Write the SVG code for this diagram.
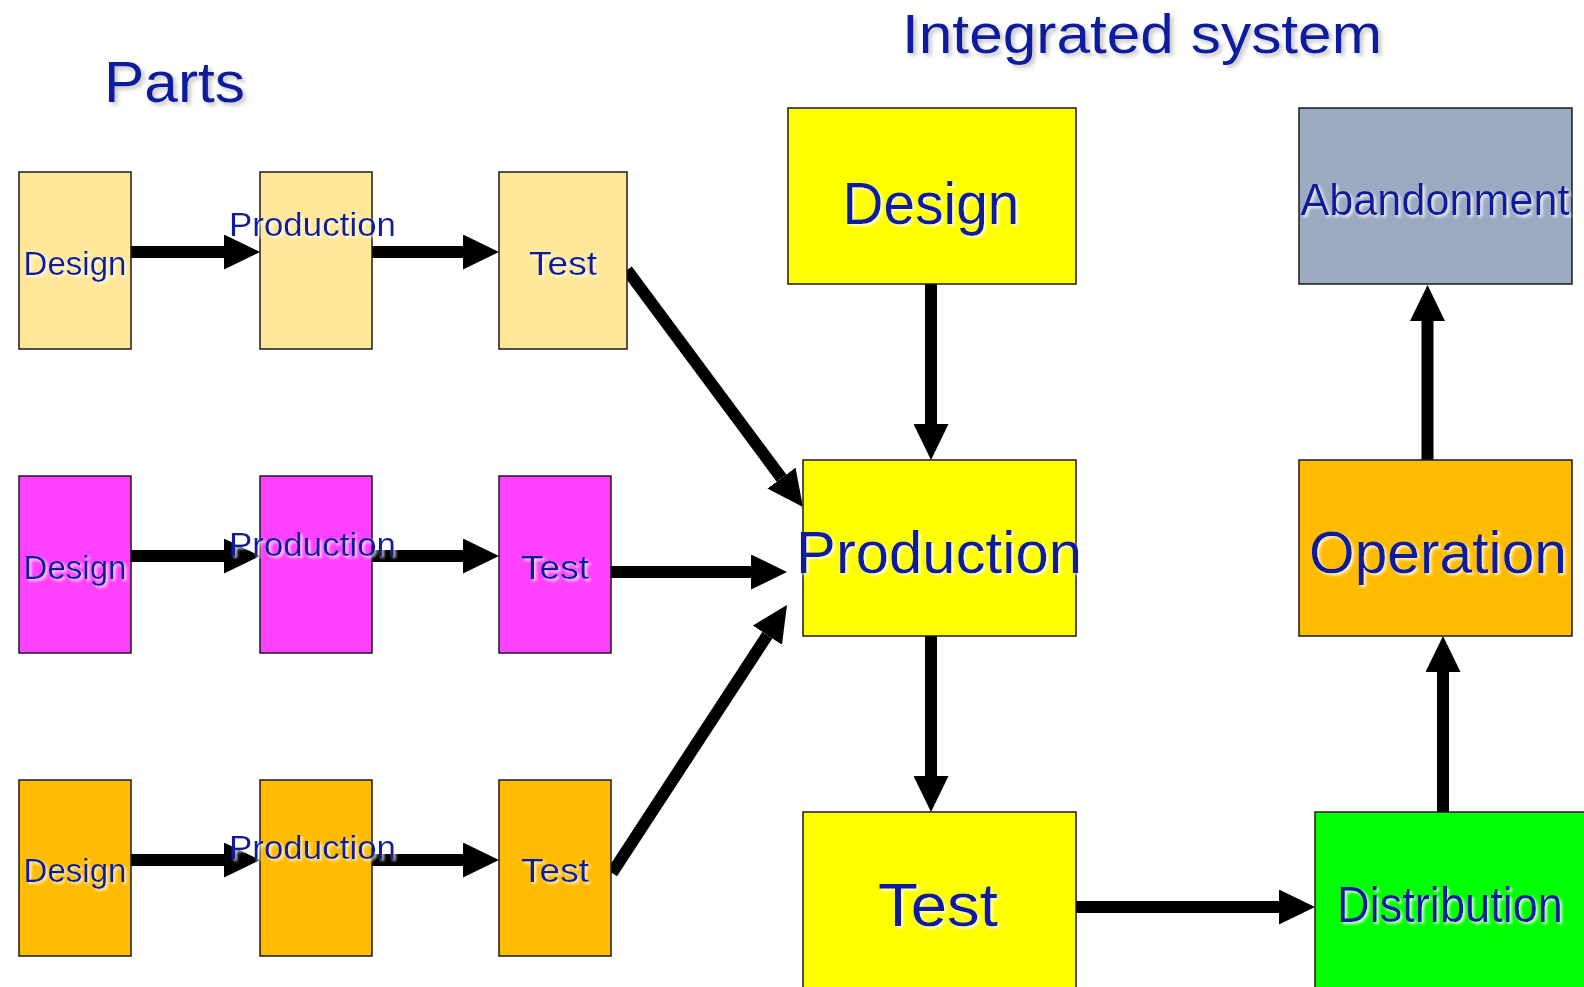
<svg xmlns="http://www.w3.org/2000/svg" width="1584" height="987" viewBox="0 0 1584 987">
  <defs>
    <style>
      .box { stroke: #1a1a1a; stroke-width: 1.5; }
      .lbl { font-family: "Liberation Sans", Arial, sans-serif; fill: #0A1E9E; text-anchor: middle; filter: url(#glow); }
      .title { font-family: "Liberation Sans", Arial, sans-serif; fill: #0A1E9E; text-anchor: middle; filter: url(#shade); }
      .arrow { stroke: #000; stroke-width: 12; fill: none; marker-end: url(#head); }
      .pale { fill: #FFE89A; }
      .magenta { fill: #FF40FF; }
      .gold { fill: #FFBB00; }
      .yellow { fill: #FFFF00; }
      .slate { fill: #9CAAC1; }
      .green { fill: #00FF00; }
    </style>
    <marker id="head" markerUnits="userSpaceOnUse" markerWidth="36" markerHeight="35" refX="0" refY="17.5" orient="auto">
      <path d="M0,0 L36,17.5 L0,35 Z" fill="#000"/>
    </marker>
    <filter id="glow" x="-5%" y="-30%" width="110%" height="160%">
      <feDropShadow dx="2" dy="2" stdDeviation="1.5" flood-color="#ffffff" flood-opacity="0.85"/>
    </filter>
    <filter id="shade" x="-10%" y="-30%" width="120%" height="160%">
      <feDropShadow dx="3" dy="3" stdDeviation="2" flood-color="#888888" flood-opacity="0.5"/>
    </filter>
  </defs>

  <rect width="1584" height="987" fill="#ffffff"/>

  <!-- headings -->
  <text class="title" x="174.5" y="102" font-size="58" textLength="141" lengthAdjust="spacingAndGlyphs">Parts</text>
  <text class="title" x="1142" y="53" font-size="56" textLength="480" lengthAdjust="spacingAndGlyphs">Integrated system</text>

  <!-- connectors -->
  <g id="connectors">
    <!-- part chains -->
    <line class="arrow" x1="131" y1="252" x2="224" y2="252"/>
    <line class="arrow" x1="372" y1="252" x2="463" y2="252"/>
    <line class="arrow" x1="131" y1="556" x2="224" y2="556"/>
    <line class="arrow" x1="372" y1="556" x2="463" y2="556"/>
    <line class="arrow" x1="131" y1="860" x2="224" y2="860"/>
    <line class="arrow" x1="372" y1="860" x2="463" y2="860"/>
    <!-- parts into system production -->
    <line class="arrow" x1="627" y1="270" x2="781.5" y2="478.1"/>
    <line class="arrow" x1="611" y1="572" x2="751" y2="572"/>
    <line class="arrow" x1="612" y1="873" x2="767.3" y2="635.2"/>
    <!-- system life cycle -->
    <line class="arrow" x1="931" y1="284" x2="931" y2="424"/>
    <line class="arrow" x1="931" y1="636" x2="931" y2="776"/>
    <line class="arrow" x1="1076" y1="907" x2="1279" y2="907"/>
    <line class="arrow" x1="1443" y1="812" x2="1443" y2="672"/>
    <line class="arrow" x1="1427.5" y1="460" x2="1427.5" y2="321"/>
  </g>

  <!-- part chain 1 -->
  <g id="p1-design">
    <rect class="box pale" x="19" y="172" width="112" height="177"/>
    <text class="lbl" x="75" y="275" font-size="33" textLength="103" lengthAdjust="spacingAndGlyphs">Design</text>
  </g>
  <g id="p1-production">
    <rect class="box pale" x="260" y="172" width="112" height="177"/>
    <text class="lbl" x="312.5" y="236" font-size="34" textLength="167" lengthAdjust="spacingAndGlyphs">Production</text>
  </g>
  <g id="p1-test">
    <rect class="box pale" x="499" y="172" width="128" height="177"/>
    <text class="lbl" x="563" y="275" font-size="34" textLength="68" lengthAdjust="spacingAndGlyphs">Test</text>
  </g>

  <!-- part chain 2 -->
  <g id="p2-design">
    <rect class="box magenta" x="19" y="476" width="112" height="177"/>
    <text class="lbl" x="75" y="579" font-size="33" textLength="103" lengthAdjust="spacingAndGlyphs">Design</text>
  </g>
  <g id="p2-production">
    <rect class="box magenta" x="260" y="476" width="112" height="177"/>
    <text class="lbl" x="312.5" y="556" font-size="34" textLength="167" lengthAdjust="spacingAndGlyphs">Production</text>
  </g>
  <g id="p2-test">
    <rect class="box magenta" x="499" y="476" width="112" height="177"/>
    <text class="lbl" x="555" y="579" font-size="34" textLength="68" lengthAdjust="spacingAndGlyphs">Test</text>
  </g>

  <!-- part chain 3 -->
  <g id="p3-design">
    <rect class="box gold" x="19" y="780" width="112" height="176"/>
    <text class="lbl" x="75" y="882" font-size="33" textLength="103" lengthAdjust="spacingAndGlyphs">Design</text>
  </g>
  <g id="p3-production">
    <rect class="box gold" x="260" y="780" width="112" height="176"/>
    <text class="lbl" x="312.5" y="859" font-size="34" textLength="167" lengthAdjust="spacingAndGlyphs">Production</text>
  </g>
  <g id="p3-test">
    <rect class="box gold" x="499" y="780" width="112" height="176"/>
    <text class="lbl" x="555" y="882" font-size="34" textLength="68" lengthAdjust="spacingAndGlyphs">Test</text>
  </g>

  <!-- integrated system -->
  <g id="sys-design">
    <rect class="box yellow" x="788" y="108" width="288" height="176"/>
    <text class="lbl" x="931" y="224" font-size="60" textLength="177" lengthAdjust="spacingAndGlyphs">Design</text>
  </g>
  <g id="sys-production">
    <rect class="box yellow" x="803" y="460" width="273" height="176"/>
    <text class="lbl" x="939" y="573" font-size="59" textLength="286" lengthAdjust="spacingAndGlyphs">Production</text>
  </g>
  <g id="sys-test">
    <rect class="box yellow" x="803" y="812" width="273" height="190"/>
    <text class="lbl" x="938" y="926" font-size="62" textLength="120" lengthAdjust="spacingAndGlyphs">Test</text>
  </g>
  <g id="sys-distribution">
    <rect class="box green" x="1315" y="812" width="280" height="190"/>
    <text class="lbl" x="1450" y="922" font-size="50" textLength="226" lengthAdjust="spacingAndGlyphs">Distribution</text>
  </g>
  <g id="sys-operation">
    <rect class="box gold" x="1299" y="460" width="273" height="176"/>
    <text class="lbl" x="1438" y="573" font-size="60" textLength="258" lengthAdjust="spacingAndGlyphs">Operation</text>
  </g>
  <g id="sys-abandonment">
    <rect class="box slate" x="1299" y="108" width="273" height="176"/>
    <text class="lbl" x="1435" y="215" font-size="45" textLength="269" lengthAdjust="spacingAndGlyphs">Abandonment</text>
  </g>
</svg>
